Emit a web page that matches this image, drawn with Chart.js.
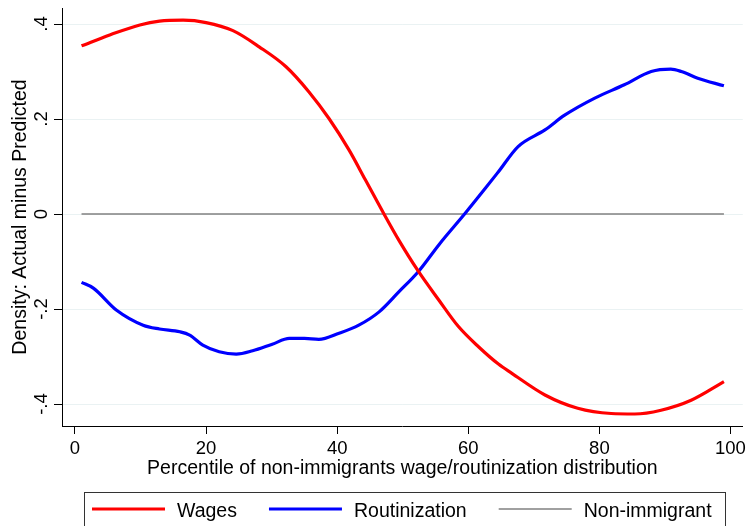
<!DOCTYPE html>
<html><head><meta charset="utf-8">
<script src="https://cdn.jsdelivr.net/npm/chart.js@4"></script>
<style>html,body{margin:0;padding:0;background:#fff}#wrap{width:750px;height:526px}</style>
</head><body><div id="wrap"><canvas id="c" width="750" height="526"></canvas></div>
<script>
const wagesX=[1,5.3,9.9,12.9,16.5,20,24.1,28.1,32.2,35.7,38.75,41.8,44.3,47.1,49.4,52.4,55.5,58.5,61.6,64.6,66.6,71.7,76.7,81.8,85.4,89.4,94,99];
const wagesY=[0.354,0.377,0.398,0.406,0.408,0.403,0.386,0.352,0.310,0.257,0.201,0.135,0.072,0.001,-0.055,-0.121,-0.181,-0.237,-0.280,-0.316,-0.335,-0.381,-0.409,-0.420,-0.421,-0.413,-0.392,-0.353];
const routX=[1,2.8,6.3,10.4,12.9,16,17.5,19.5,22,24.6,27.1,30.1,32.7,35,37.2,40.3,43.3,46.4,49.4,52.4,55.5,59.5,62.6,64.6,67.6,71.7,74.7,79.3,83.8,87.9,90.9,92.5,95,99];
const routY=[-0.144,-0.156,-0.202,-0.234,-0.242,-0.248,-0.255,-0.276,-0.290,-0.295,-0.288,-0.274,-0.262,-0.262,-0.264,-0.251,-0.234,-0.206,-0.164,-0.121,-0.065,0.001,0.054,0.089,0.142,0.177,0.208,0.244,0.272,0.300,0.305,0.300,0.286,0.270];
const baseX=[1,99];
const baseY=[0,0];
const xTicks=[0,20,40,60,80,100];
const yTicks=[-0.4,-0.2,0,0.2,0.4];
const yTickLabels=['-.4','-.2','0','.2','.4'];
const seriesLabels=['Wages','Routinization','Non-immigrant'];
const xTitle='Percentile of non-immigrants wage/routinization distribution';
const yTitle='Density: Actual minus Predicted';

const FONT='"Liberation Sans", Arial, sans-serif';
const toPts=(xs,ys)=>xs.map((x,i)=>({x:x,y:ys[i]}));

const textPlugin={
  id:'stataText',
  afterDraw(chart){
    const ctx=chart.ctx, ys=chart.scales.y, xs=chart.scales.x, ca=chart.chartArea;
    ctx.save();
    ctx.fillStyle='#000';
    // rotated y tick labels
    ctx.font='18.5px '+FONT;
    ctx.textAlign='center';ctx.textBaseline='alphabetic';
    yTicks.forEach((v,i)=>{
      const py=ys.getPixelForValue(v);
      ctx.save();ctx.translate(47,py);ctx.rotate(-Math.PI/2);
      ctx.fillText(yTickLabels[i],0,0);ctx.restore();
    });
    // y title
    ctx.font='19.5px '+FONT;
    ctx.save();ctx.translate(26,(ca.top+ca.bottom)/2);ctx.rotate(-Math.PI/2);
    ctx.fillText(yTitle,0,0);ctx.restore();
    // x title
    ctx.fillText(xTitle,(ca.left+ca.right)/2,474);
    // legend
    ctx.strokeStyle='#333';ctx.lineWidth=1;
    ctx.strokeRect(84.5,492.5,641,60);
    let lx=92;
    const ly=509;
    ctx.textAlign='left';
    chart.data.datasets.forEach((ds)=>{
      ctx.beginPath();ctx.strokeStyle=ds.borderColor;ctx.lineWidth=ds.borderWidth;
      ctx.moveTo(lx,ly);ctx.lineTo(lx+73,ly);ctx.stroke();
      ctx.fillStyle='#000';
      ctx.fillText(ds.label,lx+85,516.5);
      lx+=85+ctx.measureText(ds.label).width+32;
    });
    ctx.restore();
  }
};

new Chart(document.getElementById('c'),{
  type:'line',
  data:{datasets:[
    {label:seriesLabels[0],data:toPts(wagesX,wagesY),borderColor:'rgb(255,0,0)',borderWidth:3.2,pointRadius:0,cubicInterpolationMode:'monotone',fill:false},
    {label:seriesLabels[1],data:toPts(routX,routY),borderColor:'rgb(0,0,255)',borderWidth:3.2,pointRadius:0,cubicInterpolationMode:'monotone',fill:false},
    {label:seriesLabels[2],data:toPts(baseX,baseY),borderColor:'rgb(128,128,128)',borderWidth:1.5,pointRadius:0,fill:false}
  ]},
  options:{
    responsive:false,devicePixelRatio:1,animation:false,
    layout:{padding:{top:8,right:5,left:0,bottom:0}},
    plugins:{legend:{display:false},tooltip:{enabled:false}},
    scales:{
      x:{type:'linear',min:-1.98,max:101.87,
        afterBuildTicks:s=>{s.ticks=xTicks.map(v=>({value:v}));},
        afterFit:s=>{s.height=100;},
        grid:{drawOnChartArea:false,drawTicks:true,tickLength:8,tickColor:'#000',tickWidth:1},
        border:{display:true,color:'#000',width:1},
        ticks:{font:{family:FONT,size:18.5},color:'#000',padding:4,maxRotation:0,minRotation:0,callback:v=>String(v)}
      },
      y:{type:'linear',min:-0.4463,max:0.4337,
        afterBuildTicks:s=>{s.ticks=yTicks.map(v=>({value:v}));},
        afterFit:s=>{s.width=62;},
        grid:{color:'rgb(234,242,243)',lineWidth:1,drawTicks:true,tickLength:8,tickColor:'#000',tickWidth:1},
        border:{display:true,color:'#000',width:1},
        ticks:{display:false}
      }
    }
  },
  plugins:[textPlugin]
});
</script></body></html>
